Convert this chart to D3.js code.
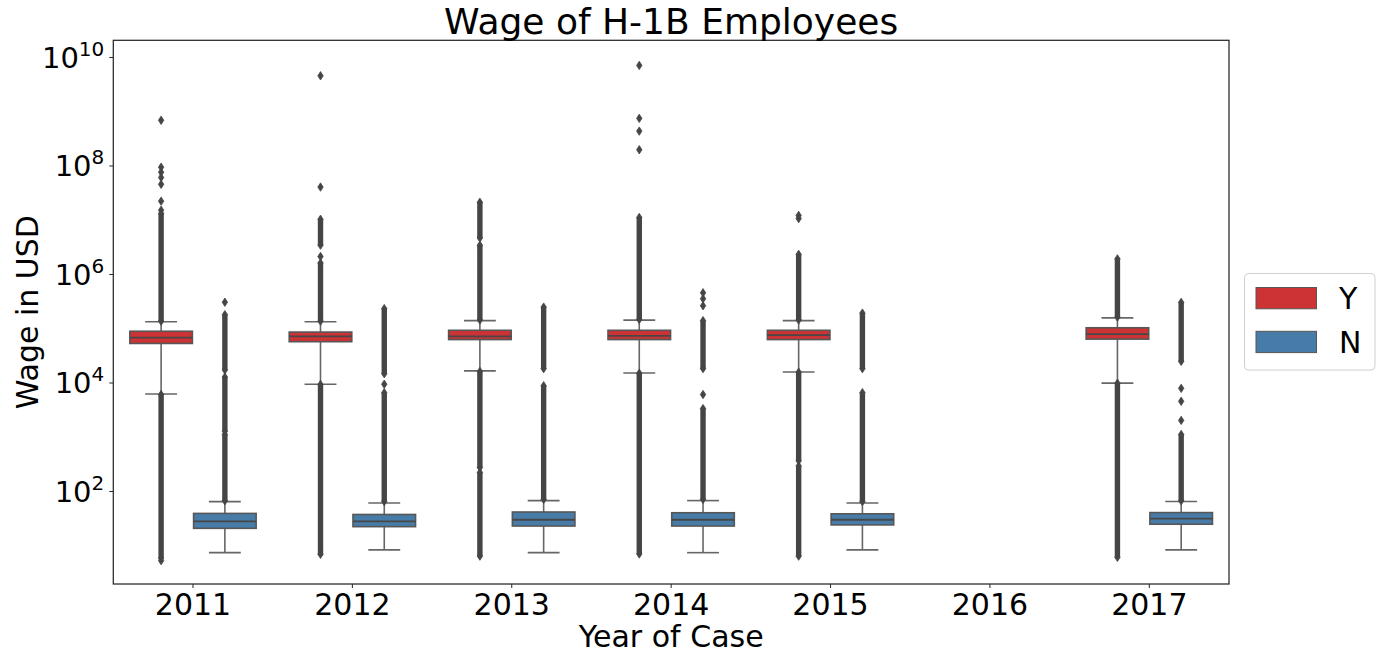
<!DOCTYPE html>
<html>
<head>
<meta charset="utf-8">
<script src="https://cdn.jsdelivr.net/npm/d3@7"></script>
<style>
  html, body { margin: 0; padding: 0; background: #fff; }
  svg { display: block; font-family: "DejaVu Sans", sans-serif; }
</style>
</head>
<body>
<svg id="chart" width="1381" height="660"></svg>
<script>
// ---------- data ----------
const years = ["2011", "2012", "2013", "2014", "2015", "2016", "2017"];
const hues = ["Y", "N"];
const yTickValues = [1e2, 1e4, 1e6, 1e8, 1e10];

// Y (certified) box stats
const yQ1          = [52400, 56500, 61800, 61800, 61800, null, 63000];
const yMedian      = [67300, 70500, 70500, 72400, 74800, null, 78000];
const yQ3          = [88000, 85000, 91600, 91600, 91600, null, 102000];
const yWhiskerLow  = [6150, 9300, 16400, 15000, 15600, null, 9750];
const yWhiskerHigh = [132000, 132000, 138000, 141000, 138000, null, 155000];

// N box stats
const nQ1          = [20.5, 22, 22.6, 22.6, 23.7, null, 24.4];
const nMedian      = [27.5, 27.6, 29.5, 29.5, 29.5, null, 31];
const nQ3          = [38.6, 36.9, 41, 39.7, 38, null, 40];
const nWhiskerLow  = [7.3, 8.2, 7.3, 7.3, 8.2, null, 8.2];
const nWhiskerHigh = [63.8, 60, 66.5, 66.5, 60, null, 64];

// sparse outliers [year, value]
const yOutlierPoints = [
  ["2011", 6.8e8], ["2011", 9.3e7], ["2011", 7.5e7], ["2011", 6.0e7], ["2011", 4.5e7],
  ["2011", 2.2e7], ["2011", 1.5e7], ["2011", 5.2],
  ["2012", 4.5e9], ["2012", 4.0e7], ["2012", 2.1e6],
  ["2014", 7.0e9], ["2014", 7.4e8], ["2014", 4.3e8], ["2014", 1.95e8],
  ["2015", 1.2e7], ["2015", 1.05e7]
];
const nOutlierPoints = [
  ["2011", 302000], ["2012", 9300], ["2014", 450000], ["2014", 350000], ["2014", 260000],
  ["2014", 6000], ["2017", 7800], ["2017", 4500], ["2017", 2000]
];

// dense runs of outliers [year, low, high]
const yOutlierBands = [
  ["2011", 135000, 1.3e7], ["2011", 5.8, 6000],
  ["2012", 3.4e6, 1.02e7], ["2012", 135000, 1.6e6], ["2012", 6.8, 9200],
  ["2013", 4.6e6, 2.1e7], ["2013", 142000, 3.4e6], ["2013", 270, 16000], ["2013", 6.3, 220],
  ["2014", 145000, 1.1e7], ["2014", 6.9, 14800],
  ["2015", 142000, 2.3e6], ["2015", 360, 15500], ["2015", 6.3, 290],
  ["2017", 160000, 1.9e6], ["2017", 6.0, 9700]
];
const nOutlierBands = [
  ["2011", 17000, 178000], ["2011", 1260, 12600], ["2011", 66, 1100],
  ["2012", 14500, 230000], ["2012", 64, 6500],
  ["2013", 18000, 245000], ["2013", 70, 8700],
  ["2014", 18000, 138000], ["2014", 70, 3300],
  ["2015", 18000, 190000], ["2015", 64, 6500],
  ["2017", 24500, 300000], ["2017", 66, 1100]
];

// ---------- layout ----------
const svg = d3.select("#chart");
const plot = { left: 113.3, right: 1229, top: 40.3, bottom: 584 };
const colors = { Y: "#cd3334", N: "#477ca8" };
const lineColor = "#575757";
const flierColor = "#454545";

const x = d3.scaleBand().domain(years).range([plot.left, plot.right]).padding(0);
const y = d3.scaleLog().domain([1.93, 2.03e10]).range([plot.bottom, plot.top]);
const bw = x.bandwidth();
const hueW = bw * 0.4;
const hueX = (yr, hue) => x(yr) + bw * 0.1 + hues.indexOf(hue) * hueW;

function buildBoxes(hue, q1, med, q3, wl, wh) {
  return years.map((yr, i) => ({ yr, hue, q1: q1[i], med: med[i], q3: q3[i], wl: wl[i], wh: wh[i] }))
    .filter(d => d.q1 != null);
}
const boxes = buildBoxes("Y", yQ1, yMedian, yQ3, yWhiskerLow, yWhiskerHigh)
  .concat(buildBoxes("N", nQ1, nMedian, nQ3, nWhiskerLow, nWhiskerHigh));
const points = yOutlierPoints.map(d => ({ yr: d[0], hue: "Y", v: d[1] }))
  .concat(nOutlierPoints.map(d => ({ yr: d[0], hue: "N", v: d[1] })));
const bands = yOutlierBands.map(d => ({ yr: d[0], hue: "Y", lo: d[1], hi: d[2] }))
  .concat(nOutlierBands.map(d => ({ yr: d[0], hue: "N", lo: d[1], hi: d[2] })));

const g = svg.append("g");
const cx = d => hueX(d.yr, d.hue) + hueW / 2;

// whiskers
const bx = g.append("g").selectAll("g").data(boxes).join("g");
const wStroke = "#666666";
bx.append("line").attr("x1", cx).attr("x2", cx).attr("y1", d => y(d.q3)).attr("y2", d => y(d.wh))
  .attr("stroke", wStroke).attr("stroke-width", 1.6);
bx.append("line").attr("x1", cx).attr("x2", cx).attr("y1", d => y(d.q1)).attr("y2", d => y(d.wl))
  .attr("stroke", wStroke).attr("stroke-width", 1.6);
bx.append("line").attr("x1", d => cx(d) - hueW / 4).attr("x2", d => cx(d) + hueW / 4)
  .attr("y1", d => y(d.wh)).attr("y2", d => y(d.wh)).attr("stroke", wStroke).attr("stroke-width", 1.6);
bx.append("line").attr("x1", d => cx(d) - hueW / 4).attr("x2", d => cx(d) + hueW / 4)
  .attr("y1", d => y(d.wl)).attr("y2", d => y(d.wl)).attr("stroke", wStroke).attr("stroke-width", 1.6);

// outlier bands and points (diamonds)
const diamond = (px, py) => `M${px},${py - 4.2} L${px + 2.7},${py} L${px},${py + 4.2} L${px - 2.7},${py} Z`;
g.append("g").selectAll("rect").data(bands).join("rect")
  .attr("x", d => cx(d) - 2.7).attr("width", 5.4)
  .attr("y", d => y(d.hi)).attr("height", d => y(d.lo) - y(d.hi))
  .attr("fill", flierColor);
const bandEnds = bands.flatMap(d => [{ yr: d.yr, hue: d.hue, v: d.lo }, { yr: d.yr, hue: d.hue, v: d.hi }]);
g.append("g").selectAll("path").data(points.concat(bandEnds)).join("path")
  .attr("d", d => diamond(cx(d), y(d.v)))
  .attr("fill", flierColor).attr("stroke", flierColor).attr("stroke-width", 0.8);

// boxes
bx.append("rect")
  .attr("x", d => hueX(d.yr, d.hue) + 0.6).attr("width", hueW - 1.2)
  .attr("y", d => y(d.q3)).attr("height", d => y(d.q1) - y(d.q3))
  .attr("fill", d => colors[d.hue]).attr("stroke", lineColor).attr("stroke-width", 1.6);
bx.append("line")
  .attr("x1", d => hueX(d.yr, d.hue) + 0.6).attr("x2", d => hueX(d.yr, d.hue) + hueW - 0.6)
  .attr("y1", d => y(d.med)).attr("y2", d => y(d.med))
  .attr("stroke", "#474747").attr("stroke-width", 1.8);

// ---------- axes ----------
const xAxis = svg.append("g").attr("transform", `translate(0,${plot.bottom})`)
  .call(d3.axisBottom(x).tickSize(4).tickPadding(6));
xAxis.select(".domain").remove();
xAxis.selectAll("line").attr("stroke", "#262626").attr("stroke-width", 1);
xAxis.selectAll("text").attr("font-size", 30).attr("fill", "#000")
  .attr("font-family", "DejaVu Sans, sans-serif");

const yAxis = svg.append("g").attr("transform", `translate(${plot.left},0)`)
  .call(d3.axisLeft(y).tickValues(yTickValues).tickSize(4).tickFormat(""));
yAxis.select(".domain").remove();
yAxis.selectAll("line").attr("stroke", "#262626").attr("stroke-width", 1);
yAxis.selectAll(".tick").each(function (d) {
  const t = d3.select(this).append("text")
    .attr("x", -9).attr("y", 0).attr("dy", "0.36em")
    .attr("text-anchor", "end").attr("fill", "#000").attr("font-size", 29)
    .attr("font-family", "DejaVu Sans, sans-serif");
  t.append("tspan").text("10");
  t.append("tspan").attr("font-size", 20).attr("dy", "-0.62em").text(String(Math.round(Math.log10(d))));
});

// frame
svg.append("rect").attr("x", plot.left).attr("y", plot.top)
  .attr("width", plot.right - plot.left).attr("height", plot.bottom - plot.top)
  .attr("fill", "none").attr("stroke", "#262626").attr("stroke-width", 1.25);

// titles
svg.append("text").attr("x", (plot.left + plot.right) / 2).attr("y", 34)
  .attr("text-anchor", "middle").attr("font-size", 36).attr("fill", "#000")
  .text("Wage of H-1B Employees");
svg.append("text").attr("x", (plot.left + plot.right) / 2).attr("y", 647)
  .attr("text-anchor", "middle").attr("font-size", 30).attr("fill", "#000")
  .text("Year of Case");
svg.append("text").attr("transform", `translate(38,${(plot.top + plot.bottom) / 2}) rotate(-90)`)
  .attr("text-anchor", "middle").attr("font-size", 30).attr("fill", "#000")
  .text("Wage in USD");

// ---------- legend ----------
const lg = svg.append("g");
lg.append("rect").attr("x", 1244.5).attr("y", 273.5).attr("width", 130.5).attr("height", 96.5)
  .attr("rx", 4).attr("fill", "#fff").attr("stroke", "#d0d0d0").attr("stroke-width", 1);
const li = lg.selectAll("g.item").data(hues).join("g").attr("class", "item")
  .attr("transform", (d, i) => `translate(0,${287.5 + i * 43.8})`);
li.append("rect").attr("x", 1256).attr("y", 0).attr("width", 60.5).attr("height", 21.3)
  .attr("fill", d => colors[d]).attr("stroke", lineColor).attr("stroke-width", 1);
li.append("text").attr("x", 1339).attr("y", 10.7).attr("dy", "0.36em")
  .attr("font-size", 30).attr("fill", "#000").text(d => d);
</script>
</body>
</html>
